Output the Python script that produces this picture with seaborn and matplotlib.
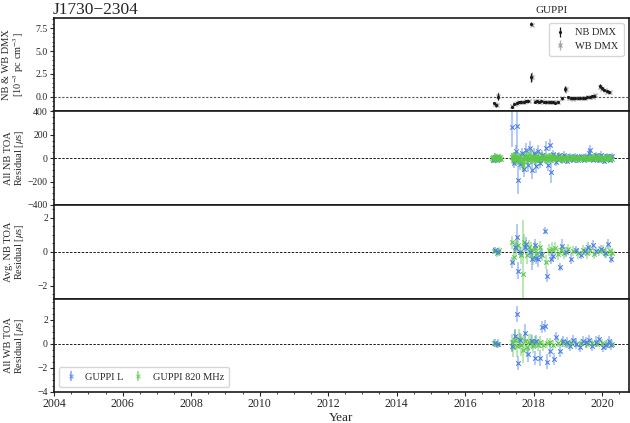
import seaborn as sns
import matplotlib.pyplot as plt
from matplotlib.ticker import MultipleLocator

# DMX (top panel), 10^-3 pc cm^-3
nb_dmx_yr = [2016.85, 2016.91, 2016.96, 2017.37, 2017.44, 2017.51, 2017.57, 2017.64, 2017.71, 2017.78,
             2017.85, 2017.93, 2017.94, 2018.03, 2018.10, 2018.16, 2018.23, 2018.30, 2018.37, 2018.44,
             2018.50, 2018.57, 2018.64, 2018.71, 2018.83, 2018.93, 2019.01, 2019.08, 2019.15, 2019.22,
             2019.29, 2019.36, 2019.43, 2019.50, 2019.57, 2019.64, 2019.71, 2019.78, 2019.93, 2020.00,
             2020.07, 2020.14, 2020.21]
nb_dmx_val = [-0.72, -0.95, 0.0, -1.1, -0.85, -0.7, -0.6, -0.6, -0.55, -0.5,
              -0.5, 8.0, 2.1, -0.55, -0.45, -0.6, -0.5, -0.55, -0.6, -0.55,
              -0.6, -0.62, -0.65, -0.6, -0.2, 0.85, -0.05, -0.15, -0.2, -0.18,
              -0.15, -0.2, -0.12, -0.1, -0.05, -0.08, 0.05, 0.1, 1.15, 0.9,
              0.75, 0.6, 0.5]
nb_dmx_err = [0.12, 0.15, 0.4, 0.12, 0.1, 0.1, 0.1, 0.1, 0.1, 0.1,
              0.1, 0.15, 0.45, 0.1, 0.1, 0.1, 0.1, 0.1, 0.1, 0.1,
              0.1, 0.1, 0.1, 0.1, 0.12, 0.35, 0.1, 0.1, 0.1, 0.1,
              0.1, 0.1, 0.1, 0.1, 0.1, 0.1, 0.1, 0.1, 0.2, 0.15,
              0.12, 0.12, 0.12]
wb_dmx_val = [-0.78, -0.9, 0.05, -1.05, -0.8, -0.65, -0.62, -0.55, -0.58, -0.48,
              -0.52, 7.9, 2.2, -0.5, -0.5, -0.55, -0.52, -0.6, -0.55, -0.58,
              -0.55, -0.6, -0.62, -0.58, -0.15, 0.8, -0.1, -0.12, -0.22, -0.15,
              -0.18, -0.17, -0.1, -0.12, -0.08, -0.05, 0.0, 0.12, 1.1, 0.85,
              0.7, 0.55, 0.45]
wb_dmx_err = [0.15, 0.18, 0.45, 0.15, 0.12, 0.12, 0.12, 0.12, 0.12, 0.12,
              0.12, 0.18, 0.5, 0.12, 0.12, 0.12, 0.12, 0.12, 0.12, 0.12,
              0.12, 0.12, 0.12, 0.12, 0.15, 0.4, 0.12, 0.12, 0.12, 0.12,
              0.12, 0.12, 0.12, 0.12, 0.12, 0.12, 0.12, 0.12, 0.25, 0.18,
              0.15, 0.15, 0.15]

# All NB TOA residuals (us)
nb_l_yr = [2016.82, 2016.88, 2016.94, 2017.00, 2017.38, 2017.43, 2017.48, 2017.53, 2017.54, 2017.60,
           2017.66, 2017.72, 2017.78, 2017.84, 2017.90, 2017.96, 2018.02, 2018.08, 2018.14, 2018.20,
           2018.26, 2018.35, 2018.42, 2018.49, 2018.50, 2018.58, 2018.66, 2018.74, 2018.82, 2018.90,
           2018.98, 2019.06, 2019.14, 2019.22, 2019.30, 2019.38, 2019.46, 2019.54, 2019.62, 2019.66,
           2019.74, 2019.82, 2019.90, 2019.98, 2020.06, 2020.14, 2020.22, 2020.28]
nb_l_res = [-12, 6, -18, 4, 270, -40, 60, 275, -185, -50,
            40, -90, 70, -60, 85, -100, 45, -70, 60, -40,
            30, 90, -60, 110, -115, 35, -30, 25, -20, 30,
            -25, 20, -15, 18, -20, 15, -12, 20, 45, 70,
            -15, 25, -20, 30, -25, 20, -15, 18]
nb_l_err = [20, 18, 22, 18, 175, 45, 50, 200, 120, 55,
            50, 70, 60, 55, 65, 75, 45, 60, 55, 45,
            40, 55, 50, 50, 95, 35, 35, 30, 30, 30,
            28, 25, 22, 25, 25, 22, 20, 25, 30, 45,
            22, 28, 25, 30, 28, 25, 22, 25]
nb_820_yr = [2016.80, 2016.83, 2016.86, 2016.89, 2016.92, 2016.95, 2016.98, 2017.01, 2017.04,
             2017.36, 2017.40, 2017.44, 2017.48, 2017.52, 2017.56, 2017.60, 2017.64, 2017.68, 2017.72,
             2017.76, 2017.80, 2017.84, 2017.88, 2017.92, 2017.96, 2018.00, 2018.04, 2018.08, 2018.12,
             2018.16, 2018.20, 2018.24, 2018.28, 2018.32, 2018.36, 2018.40, 2018.44, 2018.48, 2018.52,
             2018.56, 2018.60, 2018.64, 2018.68, 2018.72, 2018.76, 2018.80, 2018.84, 2018.88, 2018.92,
             2018.96, 2019.00, 2019.04, 2019.08, 2019.12, 2019.16, 2019.20, 2019.24, 2019.28, 2019.32,
             2019.36, 2019.40, 2019.44, 2019.48, 2019.52, 2019.56, 2019.60, 2019.64, 2019.68, 2019.72,
             2019.76, 2019.80, 2019.84, 2019.88, 2019.92, 2019.96, 2020.00, 2020.04, 2020.08, 2020.12,
             2020.16, 2020.20, 2020.24, 2020.28]
nb_820_res = [5, -8, 12, -3, 6, -10, 2, 8, -5,
              8, -12, 15, -5, 20, -18, 10, -25, -60, 12,
              -8, 18, -15, 5, 22, -10, 8, -20, 14, -6,
              10, -12, 18, -4, 9, -15, 6, 12, -8, 15,
              -10, 4, 11, -7, 13, -9, 6, -14, 10, 3,
              -5, 12, -8, 7, -11, 9, -4, 6, -10, 8,
              -6, 5, -9, 11, -3, 7, -5, 4, -8, 6,
              12, -7, 9, -4, 10, -6, 8, -10, 5, -3,
              9, -7, 6, -4]
nb_820_err = [25, 30, 28, 22, 30, 26, 24, 28, 25,
              35, 40, 38, 45, 42, 40, 38, 45, 60, 40,
              38, 42, 40, 36, 44, 38, 35, 40, 36, 34,
              35, 32, 36, 30, 32, 34, 30, 33, 30, 32,
              30, 28, 32, 28, 30, 27, 28, 30, 26, 28,
              25, 26, 24, 22, 25, 20, 18, 17, 18, 16,
              16, 18, 17, 20, 22, 24, 28, 30, 26, 28,
              30, 27, 28, 30, 26, 28, 30, 27, 28, 26,
              28, 26, 30, 27]

# Avg. NB TOA residuals (us)
avg_l_yr = [2016.87, 2016.96, 2017.38, 2017.45, 2017.53, 2017.54, 2017.59, 2017.74, 2017.79, 2017.89,
            2017.95, 2018.03, 2018.08, 2018.13, 2018.21, 2018.32, 2018.40, 2018.50, 2018.57, 2018.76,
            2018.84, 2018.96, 2019.10, 2019.25, 2019.39, 2019.50, 2019.59, 2019.73, 2019.83, 2019.97,
            2020.08, 2020.17, 2020.25]
avg_l_res = [0.1, 0.0, -0.63, 0.25, 0.84, -1.12, 0.0, 0.3, 0.45, 0.0,
             -0.45, 0.4, -0.35, -0.45, -0.15, 1.23, -1.4, -0.4, -0.25, -0.9,
             0.35, 0.0, -0.4, 0.1, -0.2, 0.05, 0.3, 0.4, 0.05, 0.15,
             -0.1, 0.45, -0.4]
avg_l_err = [0.2, 0.2, 0.35, 0.3, 0.8, 0.5, 0.3, 0.3, 0.4, 0.3,
             0.6, 0.35, 0.4, 0.45, 0.3, 0.2, 0.4, 0.35, 0.3, 0.25,
             0.4, 0.3, 0.3, 0.25, 0.25, 0.25, 0.3, 0.3, 0.25, 0.25,
             0.25, 0.3, 0.25]
avg_820_yr = [2016.84, 2016.92, 2017.00, 2017.36, 2017.42, 2017.48, 2017.56, 2017.62, 2017.69, 2017.72,
              2017.80, 2017.86, 2017.92, 2017.98, 2018.05, 2018.11, 2018.18, 2018.25, 2018.35, 2018.44,
              2018.53, 2018.62, 2018.70, 2018.80, 2018.90, 2019.00, 2019.15, 2019.30, 2019.45, 2019.55,
              2019.65, 2019.78, 2019.90, 2020.02, 2020.12, 2020.22, 2020.30]
avg_820_res = [0.05, -0.1, 0.1, 0.55, -0.3, 0.2, 0.4, -0.2, -1.31, 0.6,
               -0.2, 0.3, 0.1, -0.3, 0.2, -0.1, 0.25, -0.2, -0.6, 0.1,
               0.15, 0.2, -0.15, 0.1, -0.1, 0.15, 0.05, -0.1, 0.1, -0.05,
               0.1, -0.15, 0.05, 0.1, -0.05, 0.05, -0.1]
avg_820_err = [0.2, 0.2, 0.2, 0.4, 0.5, 0.5, 0.4, 0.5, 3.2, 0.45,
               0.5, 0.4, 0.45, 0.5, 0.4, 0.45, 0.4, 0.35, 0.4, 0.35,
               0.4, 0.35, 0.35, 0.3, 0.35, 0.3, 0.3, 0.3, 0.3, 0.35,
               0.3, 0.3, 0.3, 0.3, 0.3, 0.3, 0.3]

# All WB TOA residuals (us)
wb_l_yr = [2016.87, 2016.96, 2017.38, 2017.45, 2017.53, 2017.54, 2017.59, 2017.76, 2017.83, 2017.95,
           2018.03, 2018.08, 2018.18, 2018.24, 2018.32, 2018.40, 2018.49, 2018.60, 2018.66, 2018.76,
           2018.86, 2018.97, 2019.06, 2019.15, 2019.25, 2019.35, 2019.44, 2019.53, 2019.62, 2019.72,
           2019.82, 2019.92, 2020.02, 2020.12, 2020.20, 2020.27]
wb_l_res = [0.05, 0.0, -0.2, 0.64, 2.46, -1.6, 0.3, 0.9, -0.9, 0.2,
            -1.2, 0.2, -1.2, 1.34, 1.48, -1.5, -0.63, -1.3, 0.55, -0.6,
            0.2, 0.1, -0.2, 0.3, 0.0, -0.3, 0.2, 0.1, 0.3, -0.2,
            0.15, 0.35, -0.3, -0.1, 0.25, -0.15]
wb_l_err = [0.35, 0.35, 0.5, 0.6, 0.65, 0.6, 0.6, 0.7, 0.6, 0.5,
            0.6, 0.5, 0.7, 0.5, 0.5, 0.6, 0.5, 0.5, 0.45, 0.5,
            0.45, 0.45, 0.4, 0.4, 0.45, 0.4, 0.4, 0.45, 0.4, 0.4,
            0.45, 0.4, 0.4, 0.4, 0.4, 0.35]
wb_820_yr = [2016.84, 2016.92, 2017.36, 2017.41, 2017.46, 2017.51, 2017.57, 2017.63, 2017.69, 2017.74,
             2017.80, 2017.86, 2017.92, 2017.98, 2018.05, 2018.12, 2018.20, 2018.28, 2018.38, 2018.48,
             2018.58, 2018.70, 2018.82, 2018.95, 2019.10, 2019.25, 2019.40, 2019.55, 2019.70, 2019.85,
             2020.00, 2020.15, 2020.28]
wb_820_res = [0.05, -0.05, 0.1, -0.3, 0.3, -0.2, 0.4, -0.1, -0.5, 0.2,
              -0.3, 0.1, 0.2, -0.2, 0.15, -0.1, 0.1, -0.15, 0.05, 0.1,
              -0.1, 0.05, 0.1, -0.05, 0.05, 0.0, 0.05, -0.05, 0.05, 0.0,
              0.05, -0.05, 0.0]
wb_820_err = [0.3, 0.3, 0.7, 0.8, 0.8, 0.9, 0.8, 0.9, 1.1, 0.8,
              0.7, 0.7, 0.6, 0.6, 0.5, 0.5, 0.5, 0.45, 0.4, 0.4,
              0.4, 0.35, 0.35, 0.35, 0.3, 0.3, 0.3, 0.3, 0.3, 0.3,
              0.3, 0.3, 0.3]

blue = "#4a7fe6"
green = "#5cc84a"

sns.set_theme(style="ticks")
plt.rcParams['font.family'] = ['Liberation Serif', 'DejaVu Serif']
plt.rcParams['mathtext.fontset'] = 'stix'


def toa(ax, yr, res, err, color, alpha=0.45, lw=1.3):
    ax.errorbar(yr, res, yerr=err, fmt='none', ecolor=color, alpha=alpha, elinewidth=lw)
    sns.scatterplot(x=yr, y=res, marker='x', color=color, s=10, linewidth=0.8, ax=ax, zorder=3)


fig, axes = plt.subplots(4, 1, figsize=(6.3, 4.23), dpi=100, sharex=True)
fig.subplots_adjust(left=0.086, right=0.998, top=0.958, bottom=0.073, hspace=0)

ylab = dict(fontsize=7.5, linespacing=1.0, labelpad=1.5)

ax = axes[0]
ax.errorbar(nb_dmx_yr, nb_dmx_val, yerr=nb_dmx_err, fmt='.', color='k', markersize=2.5,
            elinewidth=0.9, label='NB DMX', zorder=3)
ax.errorbar([y + 0.012 for y in nb_dmx_yr], wb_dmx_val, yerr=wb_dmx_err, fmt='x', color='#999999',
            markersize=2.5, elinewidth=0.9, alpha=0.8, label='WB DMX', zorder=2)
ax.axhline(0, color='#555555', ls=(0, (2, 1.5)), lw=0.8)
ax.set_ylim(-1.62, 8.65)
ax.yaxis.set_major_locator(MultipleLocator(2.5))
ax.yaxis.set_minor_locator(MultipleLocator(0.5))
ax.set_ylabel('NB & WB DMX\n[10$^{-3}$ pc cm$^{-3}$]', **ylab)
ax.legend(loc='upper right', fontsize=7.5, frameon=True, handlelength=1.2, borderpad=0.5,
          labelspacing=0.4)

ax = axes[1]
toa(ax, nb_l_yr, nb_l_res, nb_l_err, blue)
toa(ax, nb_820_yr, nb_820_res, nb_820_err, green, alpha=0.7, lw=1.7)
ax.set_ylim(-400, 400)
ax.yaxis.set_major_locator(MultipleLocator(200))
ax.yaxis.set_minor_locator(MultipleLocator(50))
ax.set_ylabel('All NB TOA\nResidual [$\\mu$s]', **ylab)

ax = axes[2]
toa(ax, avg_820_yr, avg_820_res, avg_820_err, green)
toa(ax, avg_l_yr, avg_l_res, avg_l_err, blue)
ax.set_ylim(-2.75, 2.75)
ax.yaxis.set_major_locator(MultipleLocator(2))
ax.yaxis.set_minor_locator(MultipleLocator(0.5))
ax.set_ylabel('Avg. NB TOA\nResidual [$\\mu$s]', **ylab)

ax = axes[3]
toa(ax, wb_820_yr, wb_820_res, wb_820_err, green)
toa(ax, wb_l_yr, wb_l_res, wb_l_err, blue)
ax.errorbar([], [], yerr=[], fmt='x', color=blue, markersize=3, elinewidth=1.3, alpha=0.6,
            label='GUPPI L')
ax.errorbar([], [], yerr=[], fmt='x', color=green, markersize=3, elinewidth=1.3, alpha=0.6,
            label='GUPPI 820 MHz')
ax.set_ylim(-4.05, 3.75)
ax.yaxis.set_major_locator(MultipleLocator(2))
ax.yaxis.set_minor_locator(MultipleLocator(0.5))
ax.set_ylabel('All WB TOA\nResidual [$\\mu$s]', **ylab)
ax.legend(loc='lower left', ncol=2, fontsize=7.5, frameon=True, handlelength=1.2,
          columnspacing=0.8, borderpad=0.5)
ax.set_xlabel('Year', fontsize=9.5, labelpad=1)

for ax in axes[1:]:
    ax.axhline(0, color='k', ls=(0, (2.5, 1.5)), lw=0.7, zorder=1)

for ax in axes:
    ax.set_xlim(2004, 2020.78)
    ax.xaxis.set_major_locator(MultipleLocator(2))
    ax.xaxis.set_minor_locator(MultipleLocator(0.5))
    ax.tick_params(axis='both', which='major', labelsize=7, length=3, width=0.8, pad=1.5)
    ax.tick_params(axis='both', which='minor', length=1.5, width=0.6)
    for s in ax.spines.values():
        s.set_linewidth(1.2)
        s.set_color('k')
axes[3].tick_params(axis='x', labelsize=8.5)

fig.align_ylabels(axes)
fig.text(0.083, 0.958, 'J1730\u22122304', fontsize=12.5, ha='left', va='bottom')
fig.text(0.876, 0.975, 'GUPPI', fontsize=8, ha='center', va='center')

plt.savefig('out.png', dpi=100)
plt.close()
